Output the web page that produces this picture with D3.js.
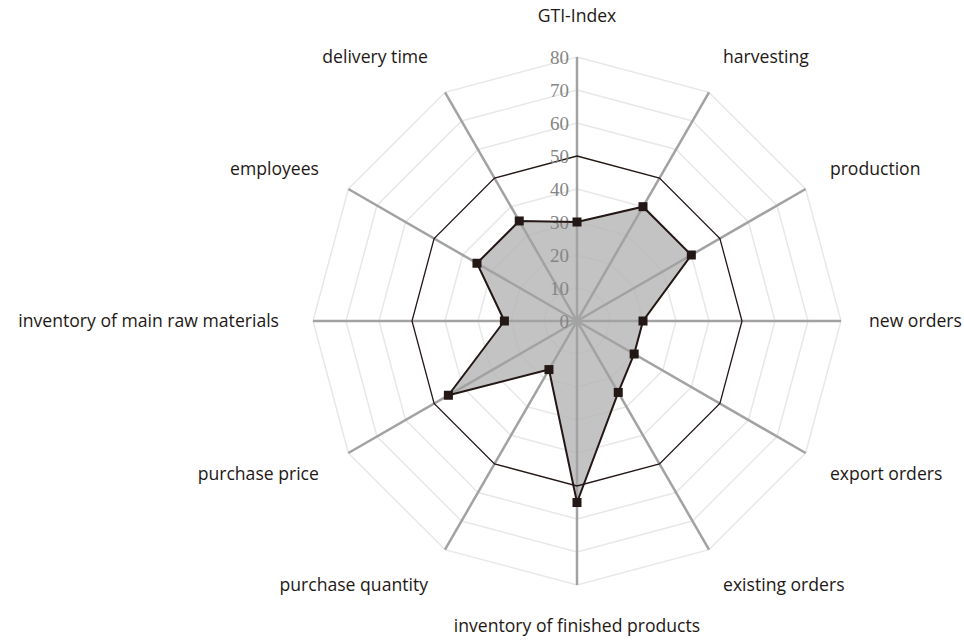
<!DOCTYPE html>
<html>
<head>
<meta charset="utf-8">
<script src="https://cdn.jsdelivr.net/npm/d3@7/dist/d3.min.js"></script>
<style>
  html, body { margin: 0; padding: 0; background: #fff; }
  svg { display: block; }
</style>
</head>
<body>
<svg id="chart" width="964" height="641"></svg>
<script>
const categories = [
  "GTI-Index", "harvesting", "production", "new orders", "export orders",
  "existing orders", "inventory of finished products", "purchase quantity",
  "purchase price", "inventory of main raw materials", "employees", "delivery time"
];
const values = [30, 40, 40, 20, 20, 25, 55, 17, 45, 22, 35, 35];
const referenceValue = 50;
const tickValues = [0, 10, 20, 30, 40, 50, 60, 70, 80];
const gridValues = [10, 20, 30, 40, 60, 70, 80];

const W = 964, H = 641;
const cx = 577, cy = 321;
const maxR = 264;

const svg = d3.select("#chart");
const g = svg.append("g").attr("transform", `translate(${cx},${cy})`);

const r = d3.scaleLinear().domain([0, 80]).range([0, maxR]);
const angle = d3.scalePoint().domain(categories).range([0, 2 * Math.PI * (categories.length - 1) / categories.length]);

const radial = d3.lineRadial()
  .angle(d => angle(d.cat))
  .radius(d => r(d.v))
  .curve(d3.curveLinearClosed);

// grid polygons
gridValues.forEach(v => {
  g.append("path")
    .attr("d", radial(categories.map(c => ({cat: c, v}))))
    .attr("fill", "none")
    .attr("stroke", "#e8e8e8")
    .attr("stroke-width", 1.5);
});

// data fill
const dataPts = categories.map((c, i) => ({cat: c, v: values[i]}));
g.append("path")
  .attr("d", radial(dataPts))
  .attr("fill", "#b4b4b4")
  .attr("fill-opacity", 0.8)
  .attr("stroke", "none");

// axes
categories.forEach(c => {
  const a = angle(c);
  g.append("line")
    .attr("x1", 0).attr("y1", 0)
    .attr("x2", Math.sin(a) * r(80))
    .attr("y2", -Math.cos(a) * r(80))
    .attr("stroke", "#a2a2a2")
    .attr("stroke-width", 2.5);
});

// reference polygon at 50
g.append("path")
  .attr("d", radial(categories.map(c => ({cat: c, v: referenceValue}))))
  .attr("fill", "none")
  .attr("stroke", "#231815")
  .attr("stroke-width", 1.3);

// tick labels
g.selectAll("text.tick")
  .data(tickValues)
  .join("text")
  .attr("class", "tick")
  .attr("x", -8)
  .attr("y", d => -r(d))
  .attr("dy", "0.35em")
  .attr("text-anchor", "end")
  .attr("font-family", "'Liberation Serif', 'DejaVu Serif', serif")
  .attr("font-size", 19)
  .attr("fill", "#858585")
  .text(d => d);

// data outline
g.append("path")
  .attr("d", radial(dataPts))
  .attr("fill", "none")
  .attr("stroke", "#231815")
  .attr("stroke-width", 2);

// markers
const ms = 9;
g.selectAll("rect.marker")
  .data(dataPts)
  .join("rect")
  .attr("class", "marker")
  .attr("x", d => Math.sin(angle(d.cat)) * r(d.v) - ms / 2)
  .attr("y", d => -Math.cos(angle(d.cat)) * r(d.v) - ms / 2)
  .attr("width", ms).attr("height", ms)
  .attr("fill", "#231815");

// category labels
g.selectAll("text.cat")
  .data(categories)
  .join("text")
  .attr("class", "cat")
  .each(function(c) {
    const a = angle(c);
    const s = Math.sin(a), co = Math.cos(a);
    let anchor = "middle", x = 0;
    if (s > 0.1) { anchor = "start"; x = s * 292; }
    else if (s < -0.1) { anchor = "end"; x = s * 298; }
    const y = -co * 305;
    d3.select(this)
      .attr("x", x).attr("y", y)
      .attr("dy", "0.35em")
      .attr("text-anchor", anchor);
  })
  .attr("font-family", "'Open Sans', 'Noto Sans', sans-serif")
  .attr("font-size", 17.6)
  .attr("fill", "#231815")
  .text(d => d);
</script>
</body>
</html>
